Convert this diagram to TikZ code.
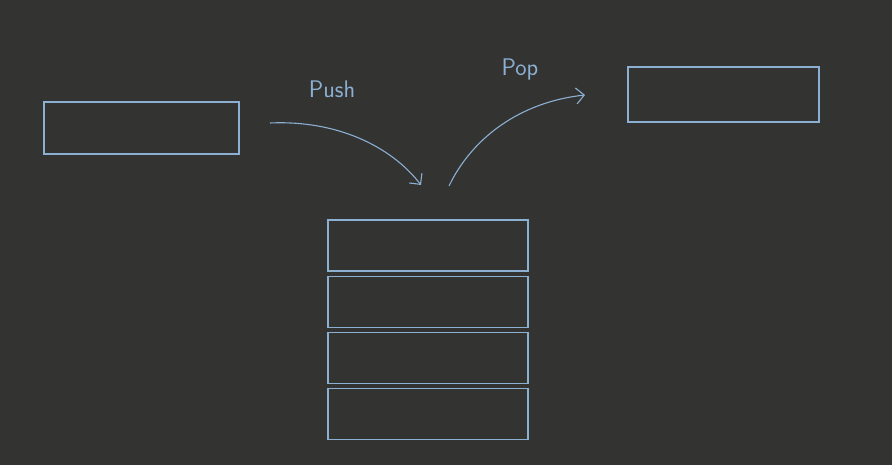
\documentclass[tikz,border=0pt]{standalone}
\usepackage{tikz}
\usetikzlibrary{arrows.meta,positioning}

\definecolor{board}{RGB}{51,51,50}
\definecolor{chalk}{RGB}{140,176,210}

\begin{document}
\begin{tikzpicture}[x=1pt,y=-1pt,
    cell/.style={draw=chalk,line width=1.1pt,minimum width=200pt,minimum height=51pt,inner sep=0pt},
    move/.style={draw=chalk,line width=1.1pt,-{Straight Barb[length=8pt,width=16pt]}},
    word/.style={text=chalk,font=\sffamily\fontsize{24}{28}\selectfont}]
            \fill[board] (0,0) rectangle (892,465);
            \useasboundingbox (0,0) rectangle (892,465);
            % stack
            \node[cell] (s1) at (428,245.5) {};
            \node[cell,below=4pt of s1] (s2) {};
            \node[cell,below=4pt of s2] (s3) {};
            \node[cell,below=4pt of s3] (s4) {};
            % element going in and element coming out
            \node[cell,minimum width=195pt,minimum height=52pt] (inbox) at (141.5,128) {};
            \node[cell,minimum width=191pt,minimum height=55pt] (outbox) at (723.5,94.5) {};
            \coordinate (pushfrom) at (270,123);
            \coordinate (pushto) at (421,185);
            \coordinate (popfrom) at (449,186);
            \coordinate (popto) at (585,95);
            \draw[move] (pushfrom) .. controls (335,120) and (390,145) .. (pushto);
            \draw[move] (popfrom) .. controls (472,138) and (520,102) .. (popto);
            \node[word] (pushlabel) at (332,89) {Push};
            \node[word] (poplabel) at (520,70) {Pop};
        \end{tikzpicture}
\end{document}
